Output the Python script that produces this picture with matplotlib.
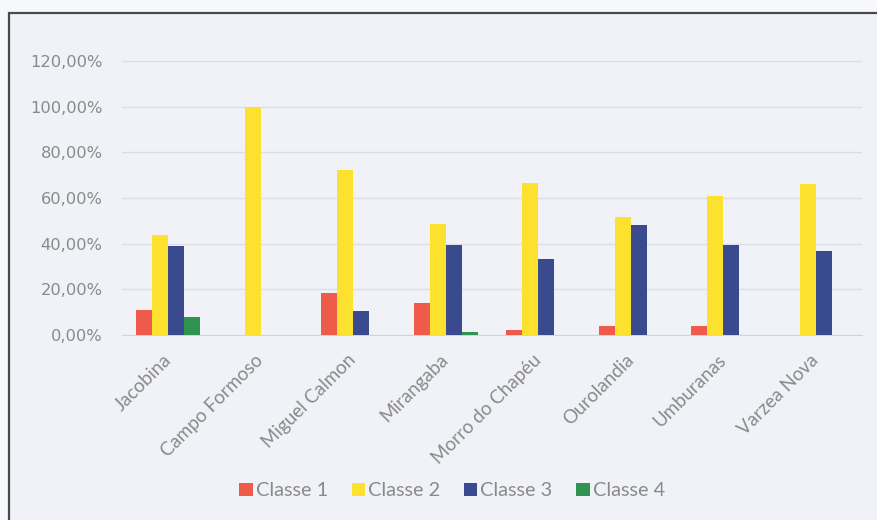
import numpy as np
import matplotlib.pyplot as plt
from matplotlib.patches import Rectangle
from matplotlib.ticker import FuncFormatter, MultipleLocator

# dados (fração de cada classe por município)
municipios = ['Jacobina', 'Campo Formoso', 'Miguel Calmon', 'Mirangaba',
              'Morro do Chapéu', 'Ourolandia', 'Umburanas', 'Varzea Nova']
classe1 = [0.111, 0.0, 0.186, 0.140, 0.022, 0.039, 0.039, 0.0]
classe2 = [0.438, 1.0, 0.722, 0.488, 0.665, 0.518, 0.608, 0.660]
classe3 = [0.390, 0.0, 0.105, 0.392, 0.334, 0.481, 0.392, 0.370]
classe4 = [0.078, 0.0, 0.0, 0.012, 0.0, 0.0, 0.0, 0.0]

series = [classe1, classe2, classe3, classe4]
nomes = ['Classe 1', 'Classe 2', 'Classe 3', 'Classe 4']
cores = ['#ee5b4a', '#fce22e', '#3a4a8e', '#2f9450']

bg = '#f0f2f8'
txt = '#8a8a8a'
plt.rcParams['font.family'] = ['Lato', 'DejaVu Sans']

fig = plt.figure(figsize=(8.78, 5.2), dpi=100, facecolor='#f7f8fb')

# moldura do gráfico (borda escura no topo e à esquerda)
moldura = Rectangle((9 / 878, -0.1), 1.2, 1.1 - 13 / 520,
                    transform=fig.transFigure, facecolor=bg,
                    edgecolor='#4a4a4a', linewidth=1.6, zorder=-5)
fig.add_artist(moldura)

ax = fig.add_axes([122 / 878, 1 - 335 / 520, 740 / 878, 274 / 520])
ax.set_zorder(2)
ax.patch.set_alpha(0)

x = np.arange(len(municipios))
w = 0.173
for i, (vals, nome, cor) in enumerate(zip(series, nomes, cores)):
    ax.bar(x + (i - 1.5) * w, vals, width=w, color=cor, label=nome, zorder=3)

ax.set_xlim(-0.5, len(municipios) - 0.5)
ax.set_ylim(0, 1.2)
ax.yaxis.set_major_locator(MultipleLocator(0.2))
ax.yaxis.set_major_formatter(FuncFormatter(lambda v, p: f"{v * 100:.2f}%".replace('.', ',')))
ax.grid(axis='y', color='#dcdee4', linewidth=1, zorder=0)
for s in ['top', 'right', 'left']:
    ax.spines[s].set_visible(False)
ax.spines['bottom'].set_color('#d2d4da')
ax.tick_params(axis='y', length=0, pad=14, labelcolor=txt)
ax.tick_params(axis='x', length=0, pad=16, labelsize=13.5, labelcolor=txt)
for lab in ax.get_yticklabels():
    lab.set_fontfamily('DejaVu Sans')
    lab.set_fontsize(11.7)
ax.set_xticks(x)
ax.set_xticklabels(municipios, rotation=45, ha='right', va='center',
                   rotation_mode='anchor')

leg = fig.legend(loc='center', bbox_to_anchor=(452 / 878, 1 - 491 / 520),
                 ncol=4, frameon=False, fontsize=14.3, labelcolor=txt,
                 handlelength=0.67, handleheight=0.67, handletextpad=0.15,
                 columnspacing=1.2)
leg.set_zorder(3)

fig.savefig('out.png', dpi=100, facecolor=fig.get_facecolor())
